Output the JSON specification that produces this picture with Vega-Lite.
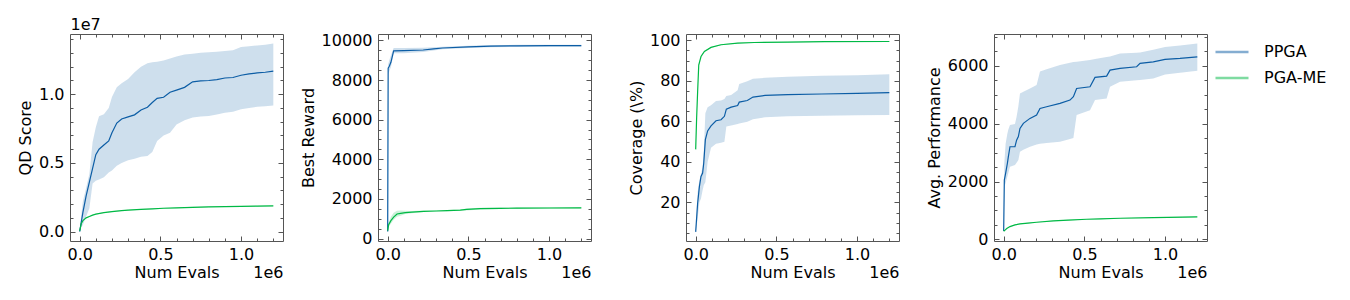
{
"$schema": "https://vega.github.io/schema/vega-lite/v6.json",
"padding": {"left": 17, "top": 16, "right": 5, "bottom": 5},
"bounds": "flush",
"spacing": 95,
"datasets": {
"qd": [
{"method":"PPGA","x":0,"y":0,"lo":0,"hi":0},
{"method":"PPGA","x":10000,"y":700000,"lo":300000,"hi":1200000},
{"method":"PPGA","x":20000,"y":1400000,"lo":500000,"hi":2200000},
{"method":"PPGA","x":40000,"y":2600000,"lo":1100000,"hi":3200000},
{"method":"PPGA","x":60000,"y":3600000,"lo":1700000,"hi":4200000},
{"method":"PPGA","x":80000,"y":4600000,"lo":3500000,"hi":6500000},
{"method":"PPGA","x":100000,"y":5600000,"lo":3700000,"hi":7600000},
{"method":"PPGA","x":120000,"y":6000000,"lo":3800000,"hi":8400000},
{"method":"PPGA","x":150000,"y":6300000,"lo":3950000,"hi":8550000},
{"method":"PPGA","x":180000,"y":6600000,"lo":4300000,"hi":9000000},
{"method":"PPGA","x":200000,"y":7200000,"lo":4450000,"hi":9800000},
{"method":"PPGA","x":230000,"y":7900000,"lo":4800000,"hi":10500000},
{"method":"PPGA","x":260000,"y":8200000,"lo":5000000,"hi":10800000},
{"method":"PPGA","x":300000,"y":8350000,"lo":5200000,"hi":11100000},
{"method":"PPGA","x":340000,"y":8500000,"lo":5300000,"hi":11600000},
{"method":"PPGA","x":380000,"y":8850000,"lo":5450000,"hi":12000000},
{"method":"PPGA","x":420000,"y":9050000,"lo":5500000,"hi":12250000},
{"method":"PPGA","x":450000,"y":9400000,"lo":5800000,"hi":12330000},
{"method":"PPGA","x":480000,"y":9700000,"lo":6600000,"hi":12370000},
{"method":"PPGA","x":520000,"y":9780000,"lo":7000000,"hi":12450000},
{"method":"PPGA","x":560000,"y":10150000,"lo":7200000,"hi":12600000},
{"method":"PPGA","x":600000,"y":10300000,"lo":7800000,"hi":12750000},
{"method":"PPGA","x":650000,"y":10500000,"lo":8100000,"hi":12900000},
{"method":"PPGA","x":700000,"y":10900000,"lo":8300000,"hi":12950000},
{"method":"PPGA","x":750000,"y":10970000,"lo":8380000,"hi":13020000},
{"method":"PPGA","x":800000,"y":11000000,"lo":8420000,"hi":13050000},
{"method":"PPGA","x":850000,"y":11060000,"lo":8520000,"hi":13100000},
{"method":"PPGA","x":900000,"y":11180000,"lo":8650000,"hi":13150000},
{"method":"PPGA","x":950000,"y":11220000,"lo":8720000,"hi":13200000},
{"method":"PPGA","x":1000000,"y":11380000,"lo":8900000,"hi":13430000},
{"method":"PPGA","x":1050000,"y":11480000,"lo":9000000,"hi":13500000},
{"method":"PPGA","x":1100000,"y":11550000,"lo":9080000,"hi":13550000},
{"method":"PPGA","x":1150000,"y":11600000,"lo":9120000,"hi":13600000},
{"method":"PPGA","x":1200000,"y":11680000,"lo":9180000,"hi":13700000},
{"method":"PGA-ME","x":0,"y":50000,"lo":20000,"hi":80000},
{"method":"PGA-ME","x":10000,"y":600000,"lo":570000,"hi":630000},
{"method":"PGA-ME","x":20000,"y":800000,"lo":770000,"hi":830000},
{"method":"PGA-ME","x":40000,"y":1000000,"lo":970000,"hi":1030000},
{"method":"PGA-ME","x":60000,"y":1100000,"lo":1070000,"hi":1130000},
{"method":"PGA-ME","x":80000,"y":1200000,"lo":1170000,"hi":1230000},
{"method":"PGA-ME","x":100000,"y":1270000,"lo":1240000,"hi":1300000},
{"method":"PGA-ME","x":150000,"y":1380000,"lo":1350000,"hi":1410000},
{"method":"PGA-ME","x":200000,"y":1460000,"lo":1430000,"hi":1490000},
{"method":"PGA-ME","x":260000,"y":1520000,"lo":1490000,"hi":1550000},
{"method":"PGA-ME","x":300000,"y":1560000,"lo":1530000,"hi":1590000},
{"method":"PGA-ME","x":380000,"y":1620000,"lo":1590000,"hi":1650000},
{"method":"PGA-ME","x":450000,"y":1660000,"lo":1630000,"hi":1690000},
{"method":"PGA-ME","x":520000,"y":1700000,"lo":1670000,"hi":1730000},
{"method":"PGA-ME","x":600000,"y":1730000,"lo":1700000,"hi":1760000},
{"method":"PGA-ME","x":700000,"y":1770000,"lo":1740000,"hi":1800000},
{"method":"PGA-ME","x":800000,"y":1800000,"lo":1770000,"hi":1830000},
{"method":"PGA-ME","x":900000,"y":1820000,"lo":1790000,"hi":1850000},
{"method":"PGA-ME","x":1000000,"y":1840000,"lo":1810000,"hi":1870000},
{"method":"PGA-ME","x":1100000,"y":1860000,"lo":1830000,"hi":1890000},
{"method":"PGA-ME","x":1200000,"y":1870000,"lo":1840000,"hi":1900000}
],
"best": [
{"method":"PPGA","x":0,"y":350,"lo":330,"hi":370},
{"method":"PPGA","x":3000,"y":8600,"lo":8300,"hi":8800},
{"method":"PPGA","x":10000,"y":8700,"lo":8450,"hi":9000},
{"method":"PPGA","x":20000,"y":8900,"lo":8650,"hi":9250},
{"method":"PPGA","x":37000,"y":9480,"lo":9350,"hi":9620},
{"method":"PPGA","x":100000,"y":9490,"lo":9360,"hi":9620},
{"method":"PPGA","x":220000,"y":9520,"lo":9420,"hi":9630},
{"method":"PPGA","x":285000,"y":9580,"lo":9500,"hi":9660},
{"method":"PPGA","x":340000,"y":9620,"lo":9560,"hi":9680},
{"method":"PPGA","x":500000,"y":9680,"lo":9620,"hi":9730},
{"method":"PPGA","x":640000,"y":9720,"lo":9660,"hi":9770},
{"method":"PPGA","x":800000,"y":9730,"lo":9670,"hi":9780},
{"method":"PPGA","x":1000000,"y":9740,"lo":9680,"hi":9790},
{"method":"PPGA","x":1200000,"y":9745,"lo":9690,"hi":9790},
{"method":"PGA-ME","x":0,"y":400,"lo":380,"hi":420},
{"method":"PGA-ME","x":6000,"y":700,"lo":600,"hi":800},
{"method":"PGA-ME","x":20000,"y":900,"lo":750,"hi":1100},
{"method":"PGA-ME","x":37000,"y":1080,"lo":950,"hi":1300},
{"method":"PGA-ME","x":58000,"y":1240,"lo":1100,"hi":1400},
{"method":"PGA-ME","x":80000,"y":1270,"lo":1150,"hi":1420},
{"method":"PGA-ME","x":109000,"y":1310,"lo":1240,"hi":1400},
{"method":"PGA-ME","x":150000,"y":1330,"lo":1280,"hi":1390},
{"method":"PGA-ME","x":223000,"y":1375,"lo":1340,"hi":1410},
{"method":"PGA-ME","x":300000,"y":1390,"lo":1360,"hi":1420},
{"method":"PGA-ME","x":368000,"y":1410,"lo":1380,"hi":1440},
{"method":"PGA-ME","x":450000,"y":1430,"lo":1400,"hi":1465},
{"method":"PGA-ME","x":490000,"y":1470,"lo":1420,"hi":1510},
{"method":"PGA-ME","x":574000,"y":1510,"lo":1470,"hi":1550},
{"method":"PGA-ME","x":700000,"y":1525,"lo":1490,"hi":1560},
{"method":"PGA-ME","x":800000,"y":1530,"lo":1495,"hi":1565},
{"method":"PGA-ME","x":1000000,"y":1540,"lo":1505,"hi":1575},
{"method":"PGA-ME","x":1200000,"y":1548,"lo":1510,"hi":1585}
],
"cov": [
{"method":"PPGA","x":0,"y":5.5,"lo":5,"hi":6},
{"method":"PPGA","x":12000,"y":19.5,"lo":12,"hi":25},
{"method":"PPGA","x":23000,"y":27.8,"lo":20,"hi":31},
{"method":"PPGA","x":33000,"y":32.8,"lo":22,"hi":34},
{"method":"PPGA","x":43000,"y":34.5,"lo":26,"hi":37.5},
{"method":"PPGA","x":50000,"y":39.5,"lo":28.5,"hi":45},
{"method":"PPGA","x":60000,"y":51,"lo":30,"hi":64},
{"method":"PPGA","x":74000,"y":55.3,"lo":40,"hi":67},
{"method":"PPGA","x":95000,"y":57.8,"lo":47,"hi":68},
{"method":"PPGA","x":126000,"y":60.3,"lo":49,"hi":70},
{"method":"PPGA","x":157000,"y":60.8,"lo":49.5,"hi":70.3},
{"method":"PPGA","x":178000,"y":62.5,"lo":50,"hi":71},
{"method":"PPGA","x":190000,"y":66,"lo":57.5,"hi":72.5},
{"method":"PPGA","x":220000,"y":67,"lo":58,"hi":73},
{"method":"PPGA","x":260000,"y":67.8,"lo":58.7,"hi":75.3},
{"method":"PPGA","x":270000,"y":69.5,"lo":59,"hi":78.5},
{"method":"PPGA","x":320000,"y":70.3,"lo":59.8,"hi":79.8},
{"method":"PPGA","x":355000,"y":72,"lo":61,"hi":81},
{"method":"PPGA","x":430000,"y":72.8,"lo":62,"hi":81.5},
{"method":"PPGA","x":570000,"y":73.2,"lo":62.5,"hi":82},
{"method":"PPGA","x":780000,"y":73.5,"lo":62.8,"hi":82.5},
{"method":"PPGA","x":1000000,"y":73.8,"lo":63,"hi":82.8},
{"method":"PPGA","x":1200000,"y":74.2,"lo":63.2,"hi":83.2},
{"method":"PGA-ME","x":0,"y":46.2,"lo":45.5,"hi":47},
{"method":"PGA-ME","x":6000,"y":62,"lo":61,"hi":63},
{"method":"PGA-ME","x":12000,"y":74.5,"lo":74,"hi":75},
{"method":"PGA-ME","x":19000,"y":87.8,"lo":87.4,"hi":88.2},
{"method":"PGA-ME","x":33000,"y":92,"lo":91.7,"hi":92.3},
{"method":"PGA-ME","x":54000,"y":94.5,"lo":94.3,"hi":94.7},
{"method":"PGA-ME","x":95000,"y":96.5,"lo":96.3,"hi":96.7},
{"method":"PGA-ME","x":157000,"y":97.8,"lo":97.6,"hi":98},
{"method":"PGA-ME","x":260000,"y":98.6,"lo":98.4,"hi":98.8},
{"method":"PGA-ME","x":363000,"y":98.9,"lo":98.7,"hi":99.1},
{"method":"PGA-ME","x":570000,"y":99.1,"lo":98.9,"hi":99.3},
{"method":"PGA-ME","x":800000,"y":99.3,"lo":99.1,"hi":99.5},
{"method":"PGA-ME","x":1200000,"y":99.4,"lo":99.2,"hi":99.6}
],
"perf": [
{"method":"PPGA","x":0,"y":290,"lo":270,"hi":310},
{"method":"PPGA","x":4000,"y":2050,"lo":1820,"hi":2630},
{"method":"PPGA","x":12000,"y":2280,"lo":1950,"hi":3300},
{"method":"PPGA","x":23000,"y":2630,"lo":2170,"hi":3660},
{"method":"PPGA","x":29000,"y":2860,"lo":2300,"hi":3800},
{"method":"PPGA","x":39000,"y":3200,"lo":2510,"hi":3950},
{"method":"PPGA","x":70000,"y":3200,"lo":2570,"hi":3985},
{"method":"PPGA","x":80000,"y":3430,"lo":2650,"hi":4240},
{"method":"PPGA","x":91000,"y":3550,"lo":2740,"hi":4600},
{"method":"PPGA","x":101000,"y":3835,"lo":3030,"hi":5040},
{"method":"PPGA","x":122000,"y":4008,"lo":3100,"hi":5100},
{"method":"PPGA","x":163000,"y":4180,"lo":3200,"hi":5215},
{"method":"PPGA","x":204000,"y":4295,"lo":3280,"hi":5330},
{"method":"PPGA","x":225000,"y":4525,"lo":3300,"hi":5800},
{"method":"PPGA","x":266000,"y":4583,"lo":3330,"hi":5880},
{"method":"PPGA","x":349000,"y":4698,"lo":3375,"hi":6020},
{"method":"PPGA","x":411000,"y":4813,"lo":3470,"hi":6100},
{"method":"PPGA","x":432000,"y":4928,"lo":3500,"hi":6130},
{"method":"PPGA","x":452000,"y":5215,"lo":4295,"hi":6140},
{"method":"PPGA","x":535000,"y":5273,"lo":4460,"hi":6200},
{"method":"PPGA","x":566000,"y":5595,"lo":4813,"hi":6230},
{"method":"PPGA","x":638000,"y":5641,"lo":4870,"hi":6300},
{"method":"PPGA","x":659000,"y":5848,"lo":5273,"hi":6320},
{"method":"PPGA","x":721000,"y":5905,"lo":5445,"hi":6420},
{"method":"PPGA","x":824000,"y":5963,"lo":5500,"hi":6450},
{"method":"PPGA","x":845000,"y":6078,"lo":5510,"hi":6460},
{"method":"PPGA","x":927000,"y":6135,"lo":5560,"hi":6550},
{"method":"PPGA","x":1000000,"y":6216,"lo":5700,"hi":6650},
{"method":"PPGA","x":1093000,"y":6250,"lo":5760,"hi":6700},
{"method":"PPGA","x":1200000,"y":6308,"lo":5825,"hi":6768},
{"method":"PGA-ME","x":0,"y":280,"lo":270,"hi":290},
{"method":"PGA-ME","x":10000,"y":330,"lo":318,"hi":342},
{"method":"PGA-ME","x":19000,"y":374,"lo":362,"hi":386},
{"method":"PGA-ME","x":39000,"y":443,"lo":431,"hi":455},
{"method":"PGA-ME","x":70000,"y":500,"lo":488,"hi":512},
{"method":"PGA-ME","x":101000,"y":535,"lo":523,"hi":547},
{"method":"PGA-ME","x":150000,"y":565,"lo":553,"hi":577},
{"method":"PGA-ME","x":204000,"y":592,"lo":580,"hi":604},
{"method":"PGA-ME","x":308000,"y":638,"lo":626,"hi":650},
{"method":"PGA-ME","x":400000,"y":665,"lo":653,"hi":677},
{"method":"PGA-ME","x":514000,"y":696,"lo":684,"hi":708},
{"method":"PGA-ME","x":600000,"y":712,"lo":700,"hi":724},
{"method":"PGA-ME","x":721000,"y":730,"lo":718,"hi":742},
{"method":"PGA-ME","x":927000,"y":753,"lo":741,"hi":765},
{"method":"PGA-ME","x":1200000,"y":776,"lo":764,"hi":788}
]
},
"hconcat": [
{
"width": 213, "height": 207,
"data": {"name": "qd"},
"layer": [
{"mark": {"type": "area", "opacity": 0.2},
"encoding": {
"x": {"field": "x", "type": "quantitative", "scale": {"domain": [-60000, 1260000], "nice": false, "zero": false}, "axis": {"orient": "bottom", "values": [0, 500000, 1000000], "labelExpr": "format(datum.value / 1000000, '.1f')", "tickSize": -5, "labelPadding": 10, "title": "Num Evals", "titlePadding": 2}},
"y": {"field": "hi", "type": "quantitative", "scale": {"domain": [-685000, 14385000], "nice": false, "zero": false}, "axis": {"orient": "left", "values": [0, 5000000, 10000000], "labelExpr": "format(datum.value / 10000000, '.1f')", "tickSize": -5, "labelPadding": 11, "title": "QD Score", "titlePadding": 5}},
"y2": {"field": "lo"},
"color": {"field": "method", "type": "nominal", "scale": {"domain": ["PPGA", "PGA-ME"], "range": ["#0C5DA5", "#00B945"]}, "legend": {"title": null}}
}},
{"mark": {"type": "line", "strokeWidth": 1.2},
"encoding": {
"x": {"field": "x", "type": "quantitative", "axis": {"orient": "top", "values": [0, 500000, 1000000], "tickSize": -5, "labels": false, "title": "1e7", "titleAnchor": "start", "titleAngle": 0, "titleAlign": "left", "titlePadding": 1}},
"y": {"field": "y", "type": "quantitative", "axis": {"orient": "right", "values": [0, 5000000, 10000000], "tickSize": -5, "labels": false, "title": null}},
"color": {"field": "method", "type": "nominal", "legend": {"title": null}}
}},
{"mark": {"type": "line", "opacity": 0},
"encoding": {
"x": {"field": "x", "type": "quantitative", "axis": {"orient": "bottom", "values": [0,100000,200000,300000,400000,500000,600000,700000,800000,900000,1000000,1100000,1200000], "tickSize": -3, "labels": false, "title": "1e6", "titleAnchor": "end", "titlePadding": 23}},
"y": {"field": "y", "type": "quantitative", "axis": {"orient": "left", "values": [0,1000000,2000000,3000000,4000000,5000000,6000000,7000000,8000000,9000000,10000000,11000000,12000000,13000000,14000000], "tickSize": -3, "labels": false, "title": null}}
}},
{"mark": {"type": "line", "opacity": 0},
"encoding": {
"x": {"field": "x", "type": "quantitative", "axis": {"orient": "top", "values": [0,100000,200000,300000,400000,500000,600000,700000,800000,900000,1000000,1100000,1200000], "tickSize": -3, "labels": false, "title": null}},
"y": {"field": "y", "type": "quantitative", "axis": {"orient": "right", "values": [0,1000000,2000000,3000000,4000000,5000000,6000000,7000000,8000000,9000000,10000000,11000000,12000000,13000000,14000000], "tickSize": -3, "labels": false, "title": null}}
}}
],
"resolve": {"axis": {"x": "independent", "y": "independent"}}
},
{
"width": 213, "height": 207,
"data": {"name": "best"},
"layer": [
{"mark": {"type": "area", "opacity": 0.2},
"encoding": {
"x": {"field": "x", "type": "quantitative", "scale": {"domain": [-60000, 1260000], "nice": false, "zero": false}, "axis": {"orient": "bottom", "values": [0, 500000, 1000000], "labelExpr": "format(datum.value / 1000000, '.1f')", "tickSize": -5, "labelPadding": 10, "title": "Num Evals", "titlePadding": 2}},
"y": {"field": "hi", "type": "quantitative", "scale": {"domain": [-126, 10328], "nice": false, "zero": false}, "axis": {"orient": "left", "values": [0, 2000, 4000, 6000, 8000, 10000], "format": "d", "tickSize": -5, "labelPadding": 11, "title": "Best Reward", "titlePadding": 5}},
"y2": {"field": "lo"},
"color": {"field": "method", "type": "nominal", "scale": {"domain": ["PPGA", "PGA-ME"], "range": ["#0C5DA5", "#00B945"]}, "legend": {"title": null}}
}},
{"mark": {"type": "line", "strokeWidth": 1.2},
"encoding": {
"x": {"field": "x", "type": "quantitative", "axis": {"orient": "top", "values": [0, 500000, 1000000], "tickSize": -5, "labels": false, "title": null}},
"y": {"field": "y", "type": "quantitative", "axis": {"orient": "right", "values": [0, 2000, 4000, 6000, 8000, 10000], "tickSize": -5, "labels": false, "title": null}},
"color": {"field": "method", "type": "nominal", "legend": {"title": null}}
}},
{"mark": {"type": "line", "opacity": 0},
"encoding": {
"x": {"field": "x", "type": "quantitative", "axis": {"orient": "bottom", "values": [0,100000,200000,300000,400000,500000,600000,700000,800000,900000,1000000,1100000,1200000], "tickSize": -3, "labels": false, "title": "1e6", "titleAnchor": "end", "titlePadding": 23}},
"y": {"field": "y", "type": "quantitative", "axis": {"orient": "left", "values": [0,500,1000,1500,2000,2500,3000,3500,4000,4500,5000,5500,6000,6500,7000,7500,8000,8500,9000,9500,10000], "tickSize": -3, "labels": false, "title": null}}
}},
{"mark": {"type": "line", "opacity": 0},
"encoding": {
"x": {"field": "x", "type": "quantitative", "axis": {"orient": "top", "values": [0,100000,200000,300000,400000,500000,600000,700000,800000,900000,1000000,1100000,1200000], "tickSize": -3, "labels": false, "title": null}},
"y": {"field": "y", "type": "quantitative", "axis": {"orient": "right", "values": [0,500,1000,1500,2000,2500,3000,3500,4000,4500,5000,5500,6000,6500,7000,7500,8000,8500,9000,9500,10000], "tickSize": -3, "labels": false, "title": null}}
}}
],
"resolve": {"axis": {"x": "independent", "y": "independent"}}
},
{
"width": 213, "height": 207,
"data": {"name": "cov"},
"layer": [
{"mark": {"type": "area", "opacity": 0.2},
"encoding": {
"x": {"field": "x", "type": "quantitative", "scale": {"domain": [-60000, 1260000], "nice": false, "zero": false}, "axis": {"orient": "bottom", "values": [0, 500000, 1000000], "labelExpr": "format(datum.value / 1000000, '.1f')", "tickSize": -5, "labelPadding": 10, "title": "Num Evals", "titlePadding": 2}},
"y": {"field": "hi", "type": "quantitative", "scale": {"domain": [1.0, 103.1], "nice": false, "zero": false}, "axis": {"orient": "left", "values": [20, 40, 60, 80, 100], "format": "d", "tickSize": -5, "labelPadding": 11, "title": "Coverage (\\%)", "titlePadding": 5}},
"y2": {"field": "lo"},
"color": {"field": "method", "type": "nominal", "scale": {"domain": ["PPGA", "PGA-ME"], "range": ["#0C5DA5", "#00B945"]}, "legend": {"title": null}}
}},
{"mark": {"type": "line", "strokeWidth": 1.2},
"encoding": {
"x": {"field": "x", "type": "quantitative", "axis": {"orient": "top", "values": [0, 500000, 1000000], "tickSize": -5, "labels": false, "title": null}},
"y": {"field": "y", "type": "quantitative", "axis": {"orient": "right", "values": [20, 40, 60, 80, 100], "tickSize": -5, "labels": false, "title": null}},
"color": {"field": "method", "type": "nominal", "legend": {"title": null}}
}},
{"mark": {"type": "line", "opacity": 0},
"encoding": {
"x": {"field": "x", "type": "quantitative", "axis": {"orient": "bottom", "values": [0,100000,200000,300000,400000,500000,600000,700000,800000,900000,1000000,1100000,1200000], "tickSize": -3, "labels": false, "title": "1e6", "titleAnchor": "end", "titlePadding": 23}},
"y": {"field": "y", "type": "quantitative", "axis": {"orient": "left", "values": [5,10,15,20,25,30,35,40,45,50,55,60,65,70,75,80,85,90,95,100], "tickSize": -3, "labels": false, "title": null}}
}},
{"mark": {"type": "line", "opacity": 0},
"encoding": {
"x": {"field": "x", "type": "quantitative", "axis": {"orient": "top", "values": [0,100000,200000,300000,400000,500000,600000,700000,800000,900000,1000000,1100000,1200000], "tickSize": -3, "labels": false, "title": null}},
"y": {"field": "y", "type": "quantitative", "axis": {"orient": "right", "values": [5,10,15,20,25,30,35,40,45,50,55,60,65,70,75,80,85,90,95,100], "tickSize": -3, "labels": false, "title": null}}
}}
],
"resolve": {"axis": {"x": "independent", "y": "independent"}}
},
{
"width": 213, "height": 207,
"data": {"name": "perf"},
"layer": [
{"mark": {"type": "area", "opacity": 0.2},
"encoding": {
"x": {"field": "x", "type": "quantitative", "scale": {"domain": [-60000, 1260000], "nice": false, "zero": false}, "axis": {"orient": "bottom", "values": [0, 500000, 1000000], "labelExpr": "format(datum.value / 1000000, '.1f')", "tickSize": -5, "labelPadding": 10, "title": "Num Evals", "titlePadding": 2}},
"y": {"field": "hi", "type": "quantitative", "scale": {"domain": [-55, 7095], "nice": false, "zero": false}, "axis": {"orient": "left", "values": [0, 2000, 4000, 6000], "format": "d", "tickSize": -5, "labelPadding": 11, "title": "Avg. Performance", "titlePadding": 5}},
"y2": {"field": "lo"},
"color": {"field": "method", "type": "nominal", "scale": {"domain": ["PPGA", "PGA-ME"], "range": ["#0C5DA5", "#00B945"]}, "legend": {"title": null}}
}},
{"mark": {"type": "line", "strokeWidth": 1.2},
"encoding": {
"x": {"field": "x", "type": "quantitative", "axis": {"orient": "top", "values": [0, 500000, 1000000], "tickSize": -5, "labels": false, "title": null}},
"y": {"field": "y", "type": "quantitative", "axis": {"orient": "right", "values": [0, 2000, 4000, 6000], "tickSize": -5, "labels": false, "title": null}},
"color": {"field": "method", "type": "nominal", "legend": {"title": null}}
}},
{"mark": {"type": "line", "opacity": 0},
"encoding": {
"x": {"field": "x", "type": "quantitative", "axis": {"orient": "bottom", "values": [0,100000,200000,300000,400000,500000,600000,700000,800000,900000,1000000,1100000,1200000], "tickSize": -3, "labels": false, "title": "1e6", "titleAnchor": "end", "titlePadding": 23}},
"y": {"field": "y", "type": "quantitative", "axis": {"orient": "left", "values": [0,500,1000,1500,2000,2500,3000,3500,4000,4500,5000,5500,6000,6500,7000], "tickSize": -3, "labels": false, "title": null}}
}},
{"mark": {"type": "line", "opacity": 0},
"encoding": {
"x": {"field": "x", "type": "quantitative", "axis": {"orient": "top", "values": [0,100000,200000,300000,400000,500000,600000,700000,800000,900000,1000000,1100000,1200000], "tickSize": -3, "labels": false, "title": null}},
"y": {"field": "y", "type": "quantitative", "axis": {"orient": "right", "values": [0,500,1000,1500,2000,2500,3000,3500,4000,4500,5000,5500,6000,6500,7000], "tickSize": -3, "labels": false, "title": null}}
}}
],
"resolve": {"axis": {"x": "independent", "y": "independent"}}
}
],
"config": {
"font": "DejaVu Sans",
"view": {"stroke": "#555555", "strokeWidth": 1},
"axis": {"grid": false, "domain": false, "labelFont": "DejaVu Sans", "labelFontSize": 16, "labelColor": "#000000", "titleFont": "DejaVu Sans", "titleFontSize": 16, "titleFontWeight": "normal", "titleColor": "#000000", "tickColor": "#555555", "tickWidth": 1, "labelFlush": false, "labelOverlap": false},
"legend": {"orient": "right", "offset": 6, "padding": 0, "labelFont": "DejaVu Sans", "labelFontSize": 16, "labelColor": "#000000", "symbolType": "stroke", "symbolSize": 1089, "symbolStrokeWidth": 2.5, "symbolOpacity": 0.5, "symbolFillColor": "transparent", "rowPadding": -8, "labelOffset": 14}
}
}
